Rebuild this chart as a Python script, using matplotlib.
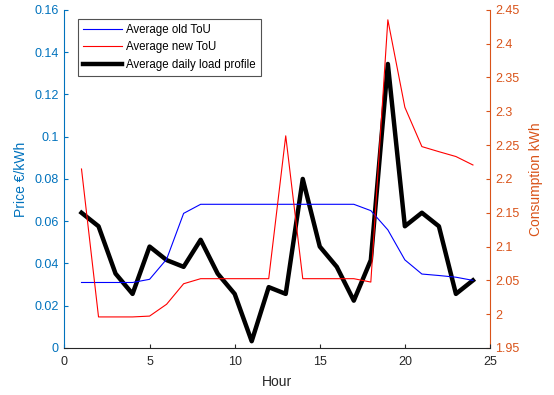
import matplotlib
matplotlib.use("Agg")
import matplotlib.pyplot as plt

BLUE_AX = "#0072BD"
ORANGE_AX = "#D95319"
DARK = "#262626"

hours = list(range(1, 25))
old_tou = [0.031, 0.031, 0.031, 0.031, 0.0325, 0.042, 0.0637, 0.068, 0.068, 0.068,
           0.068, 0.068, 0.068, 0.068, 0.068, 0.068, 0.068, 0.065, 0.0559, 0.0417,
           0.035, 0.0343, 0.0335, 0.032]
new_tou = [0.0847, 0.0147, 0.0147, 0.0147, 0.0151, 0.0207, 0.0304, 0.0328, 0.0328, 0.0328,
           0.0328, 0.0328, 0.1004, 0.0328, 0.0328, 0.0328, 0.0328, 0.0312, 0.1553, 0.1139,
           0.0953, 0.0929, 0.0906, 0.0866]
load = [2.15, 2.13, 2.06, 2.03, 2.10, 2.08, 2.07, 2.11, 2.06, 2.03,
        1.96, 2.04, 2.03, 2.20, 2.10, 2.07, 2.02, 2.08, 2.37, 2.13,
        2.15, 2.13, 2.03, 2.05]

plt.rcParams["font.family"] = ["Liberation Sans", "DejaVu Sans"]

fig = plt.figure(figsize=(5.54, 3.95), dpi=100)
ax = fig.add_axes([0.1164, 0.119, 0.768, 0.856])
ax2 = ax.twinx()

l1, = ax.plot(hours, old_tou, color="#0000FF", lw=0.8, label="Average old ToU")
l2, = ax.plot(hours, new_tou, color="#FF0000", lw=0.8, label="Average new ToU")
l3, = ax2.plot(hours, load, color="black", lw=3.2, label="Average daily load profile")

ax.set_xlim(0, 25)
ax.set_ylim(0, 0.16)
ax.set_yticks([0, 0.02, 0.04, 0.06, 0.08, 0.1, 0.12, 0.14, 0.16])
ax.set_yticklabels(["0", "0.02", "0.04", "0.06", "0.08", "0.1", "0.12", "0.14", "0.16"])
ax.set_xticks([0, 5, 10, 15, 20, 25])
ax2.set_ylim(1.95, 2.45)
ax2.set_yticks([1.95, 2, 2.05, 2.1, 2.15, 2.2, 2.25, 2.3, 2.35, 2.4, 2.45])
ax2.set_yticklabels(["1.95", "2", "2.05", "2.1", "2.15", "2.2", "2.25", "2.3", "2.35", "2.4", "2.45"])

for a in (ax, ax2):
    a.spines["top"].set_visible(False)
ax.spines["right"].set_visible(False)
ax.spines["left"].set_color(BLUE_AX)
ax.spines["bottom"].set_color(DARK)
ax2.spines["left"].set_visible(False)
ax2.spines["bottom"].set_visible(False)
ax2.spines["right"].set_color(ORANGE_AX)

ax.tick_params(axis="y", direction="in", colors=BLUE_AX, labelsize=9, length=3, pad=4)
ax.tick_params(axis="x", direction="in", colors=DARK, labelsize=9, length=3, pad=6)
ax2.tick_params(axis="y", direction="in", colors=ORANGE_AX, labelsize=9, length=3, pad=4)

ax.set_xlabel("Hour", fontsize=10, color=DARK, labelpad=5)
ax.set_ylabel("Price €/kWh", fontsize=10, color=BLUE_AX, labelpad=5)
ax2.set_ylabel("Consumption kWh", fontsize=10, color=ORANGE_AX, labelpad=7)

leg = ax.legend(handles=[l1, l2, l3], loc="upper left", bbox_to_anchor=(0.031, 0.973),
                fontsize=8.3, frameon=True, fancybox=False, borderpad=0.45,
                handlelength=3.4, handletextpad=0.35, labelspacing=0.45, borderaxespad=0)
leg.get_frame().set_edgecolor(DARK)
leg.get_frame().set_linewidth(0.8)
ax.set_zorder(ax2.get_zorder() + 1)
ax.patch.set_visible(False)

fig.savefig("out.png", dpi=100)
